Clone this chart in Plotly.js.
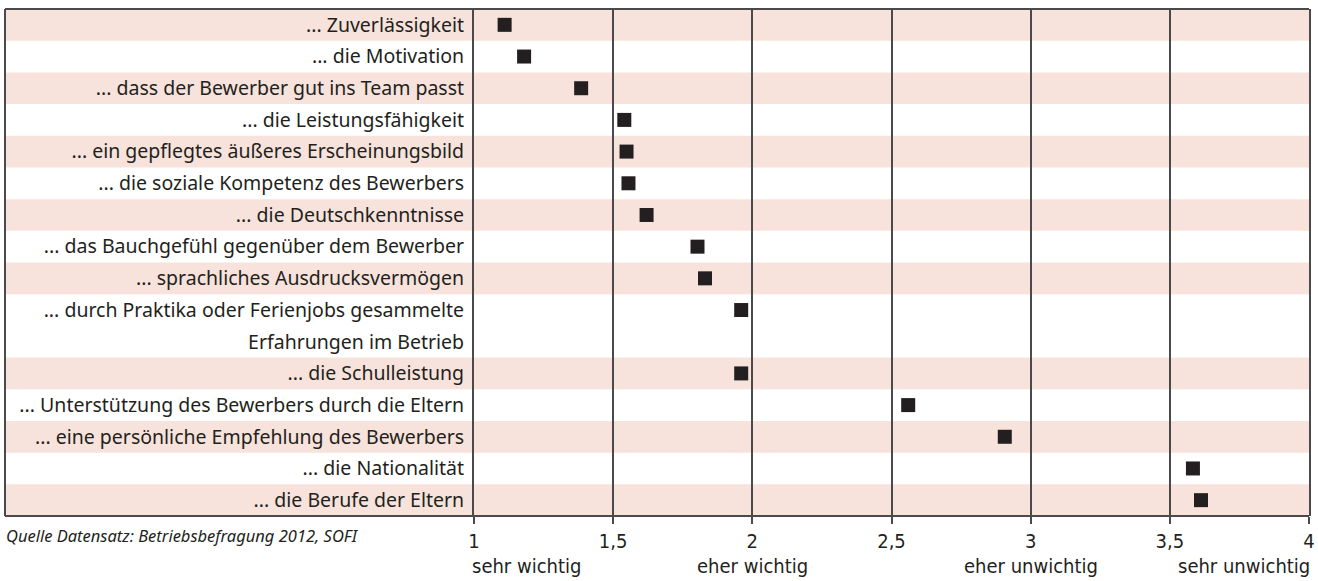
<!DOCTYPE html>
<html><head><meta charset="utf-8">
<script src="https://cdn.plot.ly/plotly-3.0.1.min.js"></script>
<style>html,body{margin:0;padding:0;background:#fff}#chart{width:1318px;height:581px}</style>
</head><body><div id="chart"></div>
<script>
const categories = [
  "... Zuverlässigkeit",
  "... die Motivation",
  "... dass der Bewerber gut ins Team passt",
  "... die Leistungsfähigkeit",
  "... ein gepflegtes äußeres Erscheinungsbild",
  "... die soziale Kompetenz des Bewerbers",
  "... die Deutschkenntnisse",
  "... das Bauchgefühl gegenüber dem Bewerber",
  "... sprachliches Ausdrucksvermögen",
  "... durch Praktika oder Ferienjobs gesammelte<br>Erfahrungen im Betrieb",
  "... die Schulleistung",
  "... Unterstützung des Bewerbers durch die Eltern",
  "... eine persönliche Empfehlung des Bewerbers",
  "... die Nationalität",
  "... die Berufe der Eltern"
];
const meanValues = [1.11, 1.18, 1.385, 1.54, 1.548, 1.555, 1.62, 1.803, 1.83, 1.96, 1.96, 2.56, 2.907, 3.583, 3.612];
const xTickValues = [1, 1.5, 2, 2.5, 3, 3.5, 4];
const scaleLabels = ["sehr wichtig", "eher wichtig", "eher unwichtig", "sehr unwichtig"];
const scaleLabelValues = [1, 2, 3, 4];
const sourceNote = "Quelle Datensatz: Betriebsbefragung 2012, SOFI";

const W = 1318, H = 581;
const M = {l: 474, r: 9, t: 9, b: 65};
const leftEdge = (5 - M.l) / (W - M.l - M.r);
const lineColor = '#4a4a4a';
const bandColor = '#f7e3db';
const textColor = '#231f20';
const labelFont = '"Noto Sans", "Open Sans", sans-serif';
const axisFont = '"Liberation Sans Narrow", "DejaVu Sans Condensed", "Roboto Condensed", sans-serif';

// slots (lines) per category
const slotStart = [];
const tickVals = [], tickText = [];
let s = 0;
categories.forEach(c => {
  const lines = c.split('<br>');
  slotStart.push(s);
  lines.forEach((ln, k) => { tickVals.push(s + k); tickText.push(ln); });
  s += lines.length;
});
const nSlots = s;

const shapes = [];
categories.forEach((c, i) => {
  if (i % 2 === 0) {
    const n = c.split('<br>').length;
    shapes.push({type: 'rect', layer: 'below', xref: 'paper', yref: 'y',
      x0: leftEdge, x1: 1, y0: slotStart[i] - 0.5, y1: slotStart[i] + n - 0.5,
      fillcolor: bandColor, line: {width: 0}});
  }
});
// frame: top, bottom, left
shapes.push({type: 'line', xref: 'paper', yref: 'paper', x0: leftEdge, x1: 1, y0: 1, y1: 1, line: {color: lineColor, width: 2}});
shapes.push({type: 'line', xref: 'paper', yref: 'paper', x0: leftEdge, x1: 1, y0: 0, y1: 0, line: {color: lineColor, width: 2}});
shapes.push({type: 'line', xref: 'paper', yref: 'paper', x0: leftEdge, x1: leftEdge, y0: 0, y1: 1, line: {color: lineColor, width: 2}});

const annotations = scaleLabels.map((t, i) => {
  const first = i === 0, last = i === scaleLabels.length - 1;
  return {
    text: t, xref: 'x', yref: 'paper', x: scaleLabelValues[i], y: -0.098,
    xanchor: first ? 'left' : (last ? 'right' : 'center'),
    xshift: first ? -4 : (last ? 3 : 0),
    yanchor: 'middle', showarrow: false,
    font: {family: axisFont, size: 20, color: textColor}
  };
});
annotations.push({
  text: '<i>' + sourceNote + '</i>', xref: 'paper', yref: 'paper', x: leftEdge, y: -0.038,
  xanchor: 'left', yanchor: 'middle', showarrow: false, xshift: -1,
  font: {family: labelFont, size: 16.5, color: textColor}
});

const trace = {
  type: 'scatter', mode: 'markers',
  x: meanValues, y: slotStart,
  marker: {symbol: 'square', size: 14, color: textColor, line: {width: 0}},
  hoverinfo: 'x', cliponaxis: false
};

const layout = {
  width: W, height: H, margin: M,
  paper_bgcolor: '#ffffff', plot_bgcolor: 'rgba(0,0,0,0)',
  separators: ',.',
  showlegend: false,
  xaxis: {
    range: [1, 4], tickvals: xTickValues, showgrid: true, gridcolor: lineColor, gridwidth: 2,
    zeroline: false, showline: false, ticks: 'outside', ticklen: 7, tickwidth: 2, tickcolor: lineColor,
    tickfont: {family: axisFont, size: 20, color: textColor}, fixedrange: true
  },
  yaxis: {
    range: [nSlots - 0.5, -0.5], tickvals: tickVals, ticktext: tickText,
    showgrid: false, zeroline: false, showline: true, mirror: true, linecolor: lineColor, linewidth: 2,
    ticks: '', ticklabelstandoff: 4,
    tickfont: {family: labelFont, size: 19.5, color: textColor}, fixedrange: true
  },
  shapes: shapes, annotations: annotations
};
Plotly.newPlot('chart', [trace], layout, {displayModeBar: false, staticPlot: true});
</script></body></html>
